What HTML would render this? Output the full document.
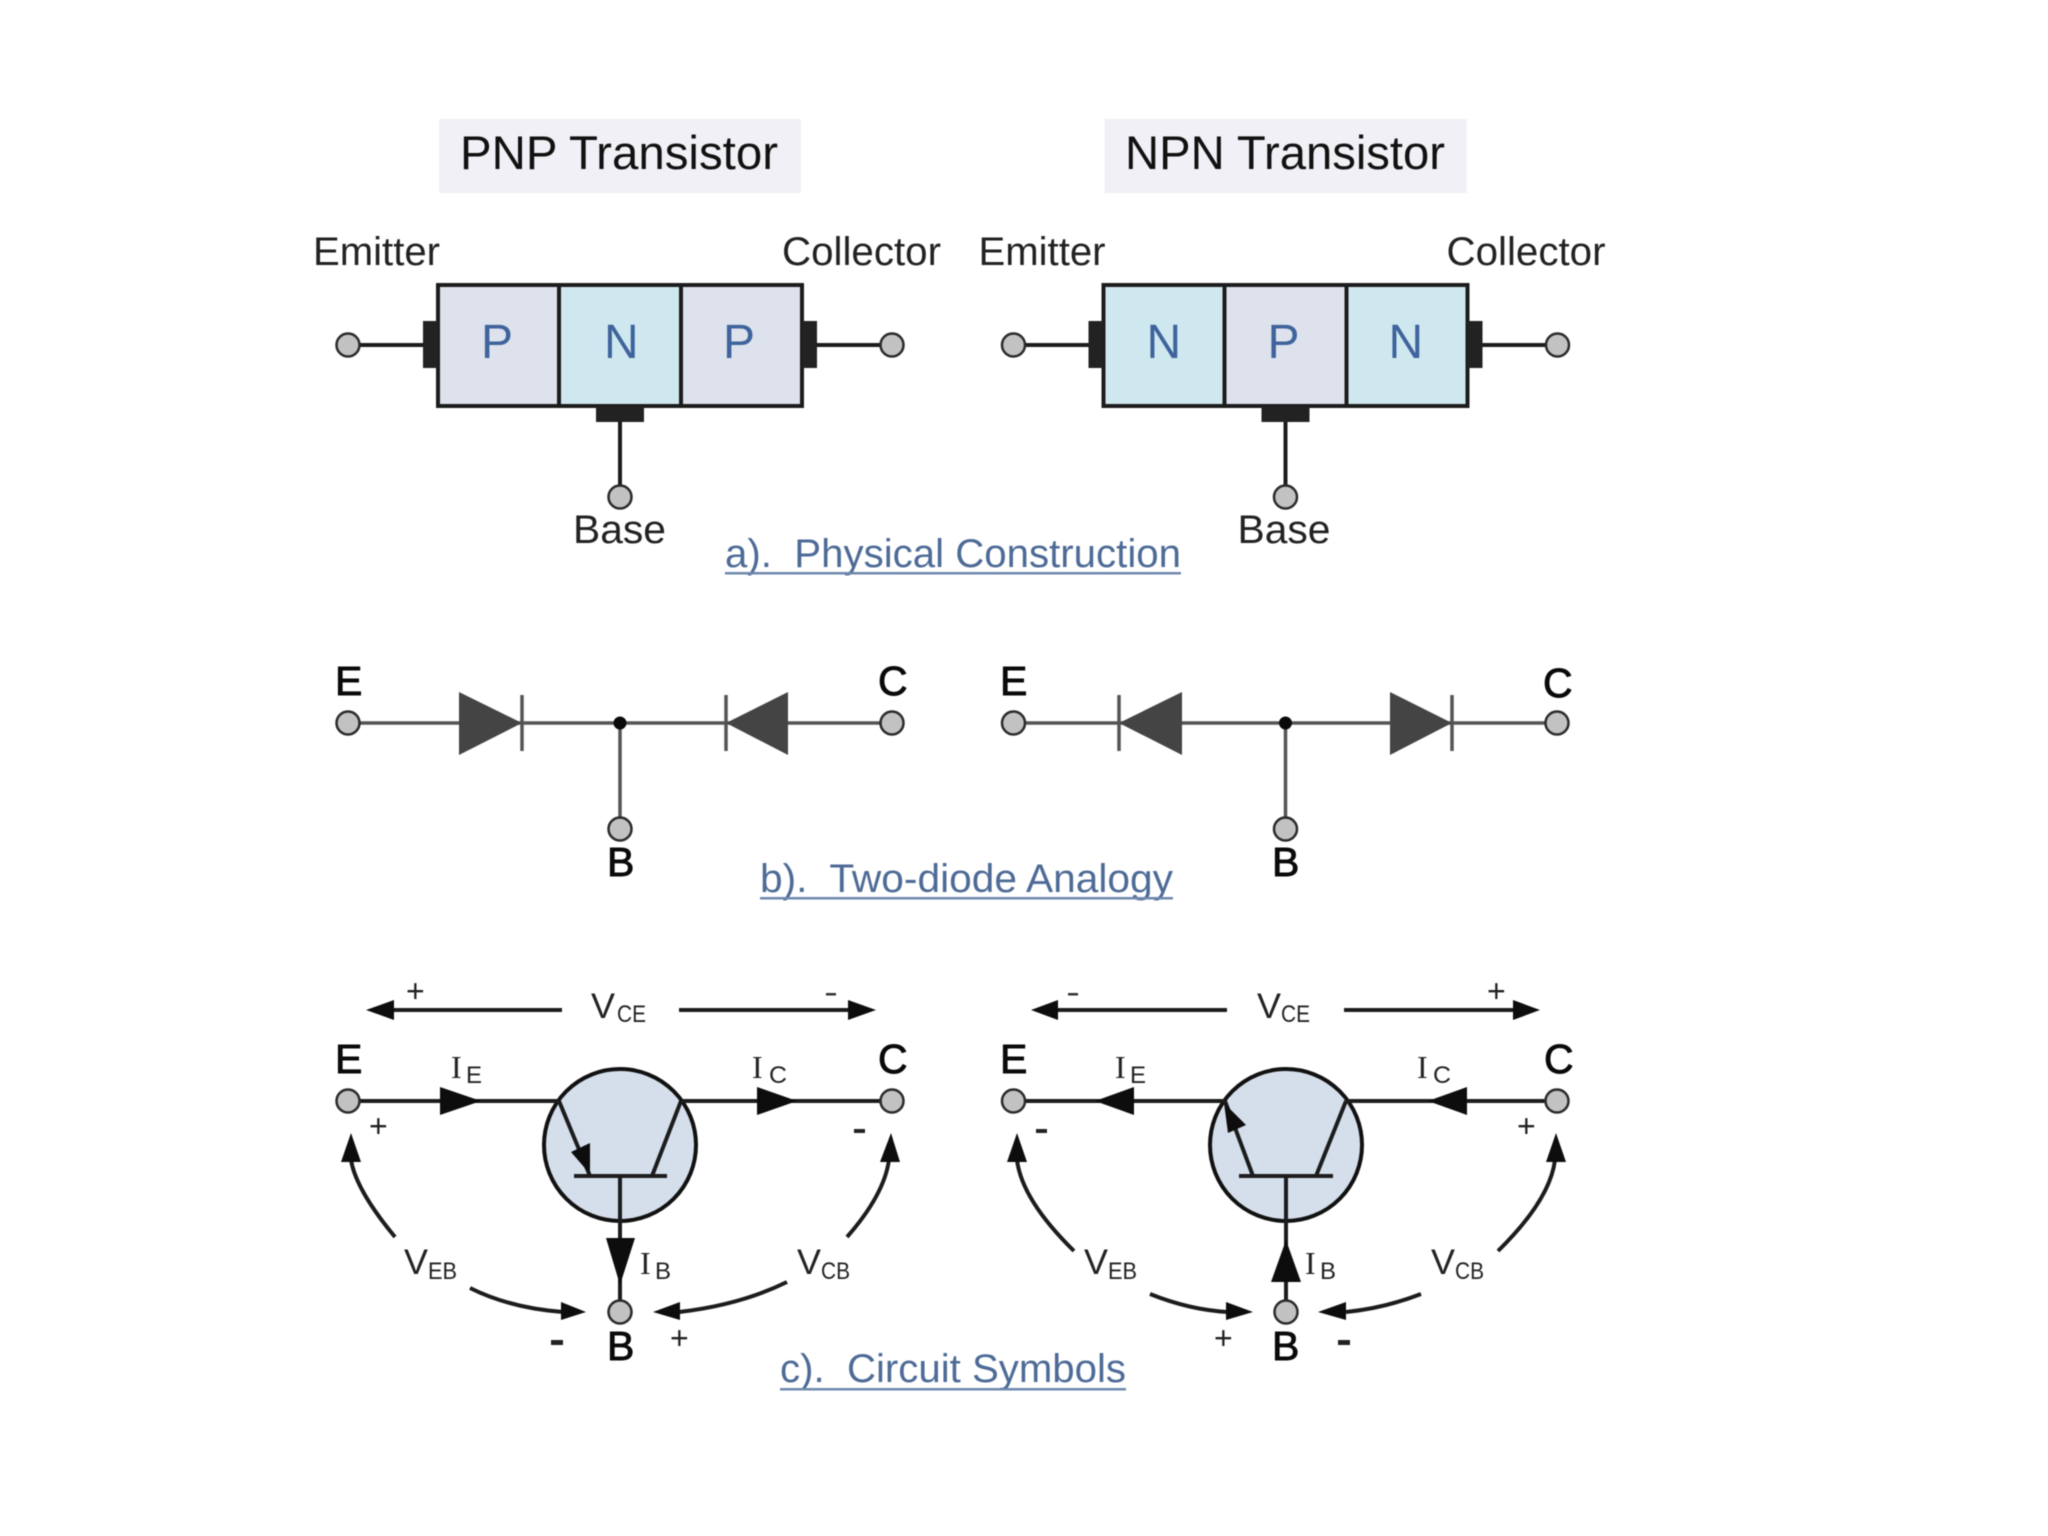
<!DOCTYPE html>
<html><head><meta charset="utf-8"><style>
html,body{margin:0;padding:0;background:#fff}
svg{display:block}
text{font-family:"Liberation Sans",sans-serif;fill:#111}
.t{font-size:47px}.l{font-size:40px;fill:#222}.s{font-size:48px;fill:#3f649c}
.c{font-size:40px;fill:#4d6b96}.b{font-size:41px;fill:#0a0a0a;stroke:#0a0a0a;stroke-width:.9px}
.v{font-size:35px;fill:#222}.u{font-size:24px;fill:#222}.i{font-size:32px;fill:#222;font-family:"Liberation Serif",serif}.p{font-size:32px;fill:#222}
.term{fill:#c2c2c2;stroke:#2b2b2b;stroke-width:2.5}
.w{stroke:#1c1c1c;stroke-width:4;fill:none}
.g{stroke:#555;stroke-width:3.5;fill:none}
.k{fill:#0d0d0d}
</style></head><body>
<svg width="2048" height="1536" viewBox="0 0 2048 1536" xmlns="http://www.w3.org/2000/svg">
<rect width="2048" height="1536" fill="#fff"/>
<g style="filter:blur(.6px)">

<!-- ===== a) physical construction ===== -->
<rect x="439" y="119" width="362" height="74" fill="#f0f0f6"/>
<rect x="1104.5" y="119" width="362" height="74" fill="#f0f0f6"/>
<text class="t" x="460" y="169" textLength="318" lengthAdjust="spacingAndGlyphs">PNP Transistor</text>
<text class="t" x="1125" y="169" textLength="320" lengthAdjust="spacingAndGlyphs">NPN Transistor</text>

<g id="pnp-a">
<text class="l" x="313" y="265" textLength="127" lengthAdjust="spacingAndGlyphs">Emitter</text>
<text class="l" x="782" y="265" textLength="159" lengthAdjust="spacingAndGlyphs">Collector</text>
<rect x="438" y="285" width="121" height="121" fill="#dde2ed"/>
<rect x="559" y="285" width="122" height="121" fill="#cfe8f0"/>
<rect x="681" y="285" width="121" height="121" fill="#dde2ed"/>
<rect x="438" y="285" width="364" height="121" fill="none" stroke="#1c1c1c" stroke-width="4"/>
<path d="M559 285V406M681 285V406" stroke="#1c1c1c" stroke-width="4"/>
<text class="s" x="481" y="358">P</text>
<text class="s" x="604" y="358">N</text>
<text class="s" x="723" y="358">P</text>
<rect x="423" y="321" width="15" height="47" fill="#222"/>
<rect x="802" y="321" width="15" height="47" fill="#222"/>
<rect x="596" y="406" width="48" height="16" fill="#222"/>
<path class="w" d="M358 345H423M817 345H882M620 422V487"/>
<circle class="term" cx="348" cy="345" r="11.5"/>
<circle class="term" cx="892" cy="345" r="11.5"/>
<circle class="term" cx="620" cy="497" r="11.5"/>
<text class="l" x="573" y="543" textLength="93" lengthAdjust="spacingAndGlyphs">Base</text>
</g>

<g transform="translate(665.5 0)">
<text class="l" x="313" y="265" textLength="127" lengthAdjust="spacingAndGlyphs">Emitter</text>
<text class="l" x="781" y="265" textLength="159" lengthAdjust="spacingAndGlyphs">Collector</text>
<rect x="438" y="285" width="121" height="121" fill="#cfe8f0"/>
<rect x="559" y="285" width="122" height="121" fill="#dde2ed"/>
<rect x="681" y="285" width="121" height="121" fill="#cfe8f0"/>
<rect x="438" y="285" width="364" height="121" fill="none" stroke="#1c1c1c" stroke-width="4"/>
<path d="M559 285V406M681 285V406" stroke="#1c1c1c" stroke-width="4"/>
<text class="s" x="481" y="358">N</text>
<text class="s" x="602" y="358">P</text>
<text class="s" x="723" y="358">N</text>
<rect x="423" y="321" width="15" height="47" fill="#222"/>
<rect x="802" y="321" width="15" height="47" fill="#222"/>
<rect x="596" y="406" width="48" height="16" fill="#222"/>
<path class="w" d="M358 345H423M817 345H882M620 422V487"/>
<circle class="term" cx="348" cy="345" r="11.5"/>
<circle class="term" cx="892" cy="345" r="11.5"/>
<circle class="term" cx="620" cy="497" r="11.5"/>
<text class="l" x="572" y="543" textLength="93" lengthAdjust="spacingAndGlyphs">Base</text>
</g>

<text class="c" x="725" y="567" textLength="456" lengthAdjust="spacingAndGlyphs" xml:space="preserve">a).  Physical Construction</text>
<rect x="725" y="572" width="456" height="2.5" fill="#6f88ad"/>

<!-- ===== b) two-diode ===== -->
<path class="g" d="M358 723H882M620 723V819"/>
<polygon points="459,692 522,723 459,755" fill="#444"/>
<path class="g" d="M522 695V751M726 695V751"/>
<polygon points="788,692 726,723 788,755" fill="#444"/>
<circle cx="620" cy="723" r="6.5" fill="#0a0a0a"/>
<circle class="term" cx="348" cy="723" r="11.5"/>
<circle class="term" cx="892" cy="723" r="11.5"/>
<circle class="term" cx="620" cy="829" r="11.5"/>
<text class="b" x="335" y="695">E</text>
<text class="b" x="878" y="695">C</text>
<text class="b" x="607" y="876">B</text>

<path class="g" d="M1023 723H1547M1285.5 723V819"/>
<polygon points="1182,692 1119,723 1182,755" fill="#444"/>
<path class="g" d="M1119 695V751M1452 695V751"/>
<polygon points="1390,692 1452,723 1390,755" fill="#444"/>
<circle cx="1285.5" cy="723" r="6.5" fill="#0a0a0a"/>
<circle class="term" cx="1013.5" cy="723" r="11.5"/>
<circle class="term" cx="1557" cy="723" r="11.5"/>
<circle class="term" cx="1285.5" cy="829" r="11.5"/>
<text class="b" x="1000" y="695">E</text>
<text class="b" x="1543" y="697">C</text>
<text class="b" x="1272" y="876">B</text>

<text class="c" x="760" y="892" textLength="413" lengthAdjust="spacingAndGlyphs" xml:space="preserve">b).  Two-diode Analogy</text>
<rect x="760" y="897" width="413" height="2.5" fill="#6f88ad"/>

<!-- ===== c) symbols PNP ===== -->
<path class="w" d="M392 1010H562M679 1010H850"/>
<polygon class="k" points="366,1010 394,1000 394,1020"/>
<polygon class="k" points="876,1010 848,1000 848,1020"/>
<text class="v" x="591" y="1018" textLength="24" lengthAdjust="spacingAndGlyphs">V</text>
<text class="u" x="617" y="1022" textLength="29" lengthAdjust="spacingAndGlyphs">CE</text>
<text class="p" x="406" y="1002">+</text>
<rect x="826" y="993" width="10" height="2.5" fill="#333"/>

<text class="b" x="335" y="1073">E</text>
<text class="b" x="878" y="1073">C</text>
<text class="i" x="451" y="1078">I</text>
<text class="u" x="466" y="1083" textLength="16" lengthAdjust="spacingAndGlyphs">E</text>
<text class="i" x="752" y="1078">I</text>
<text class="u" x="769" y="1083" textLength="18" lengthAdjust="spacingAndGlyphs">C</text>

<circle cx="620" cy="1145" r="76" fill="#d5dfeb" stroke="#111" stroke-width="4"/>
<path class="w" d="M358 1101H559M682 1101H882M620 1176V1302M574 1176H667M559 1101L590 1176M681 1101L652 1176"/>
<polygon class="k" points="440,1087 481,1101 440,1115"/>
<polygon class="k" points="757,1087 797,1101 757,1115"/>
<polygon class="k" points="571,1152 590,1143 590,1174"/>
<polygon class="k" points="606,1238 635,1238 620,1285"/>
<circle class="term" cx="348" cy="1101" r="11.5"/>
<circle class="term" cx="892" cy="1101" r="11.5"/>
<circle class="term" cx="620" cy="1312" r="11.5"/>
<text class="p" x="369" y="1137">+</text>
<rect x="854" y="1129" width="11" height="4" fill="#222"/>
<text class="i" x="640" y="1274">I</text>
<text class="u" x="655" y="1279" textLength="16" lengthAdjust="spacingAndGlyphs">B</text>
<text class="v" x="404" y="1274" textLength="24" lengthAdjust="spacingAndGlyphs">V</text>
<text class="u" x="428" y="1279" textLength="29" lengthAdjust="spacingAndGlyphs">EB</text>
<text class="v" x="797" y="1274" textLength="24" lengthAdjust="spacingAndGlyphs">V</text>
<text class="u" x="821" y="1279" textLength="29" lengthAdjust="spacingAndGlyphs">CB</text>
<path class="w" d="M395 1237Q356 1190 351 1160M847 1237Q884 1195 889 1160M470 1288Q510 1308 563 1312M787 1282Q740 1305 679 1312"/>
<polygon class="k" points="351,1133 341,1162 361,1162"/>
<polygon class="k" points="891,1133 880,1162 900,1162"/>
<polygon class="k" points="586,1312 561,1302 561,1320"/>
<polygon class="k" points="653,1312 680,1302 680,1320"/>
<text class="b" x="607" y="1360">B</text>
<rect x="551" y="1340" width="12" height="5" fill="#222"/>
<text class="p" x="670" y="1349">+</text>

<!-- ===== c) symbols NPN ===== -->
<path class="w" d="M1056 1010H1227M1344 1010H1516"/>
<polygon class="k" points="1031,1010 1058,1000 1058,1020"/>
<polygon class="k" points="1540,1010 1513,1000 1513,1020"/>
<text class="v" x="1257" y="1018" textLength="24" lengthAdjust="spacingAndGlyphs">V</text>
<text class="u" x="1281" y="1022" textLength="29" lengthAdjust="spacingAndGlyphs">CE</text>
<rect x="1068" y="993" width="10" height="2.5" fill="#333"/>
<text class="p" x="1487" y="1002">+</text>

<text class="b" x="1000" y="1073">E</text>
<text class="b" x="1544" y="1073">C</text>
<text class="i" x="1115" y="1078">I</text>
<text class="u" x="1130" y="1083" textLength="16" lengthAdjust="spacingAndGlyphs">E</text>
<text class="i" x="1417" y="1078">I</text>
<text class="u" x="1433" y="1083" textLength="18" lengthAdjust="spacingAndGlyphs">C</text>

<circle cx="1286" cy="1145" r="76" fill="#d5dfeb" stroke="#111" stroke-width="4"/>
<path class="w" d="M1023 1101H1225M1346 1101H1547M1286 1176V1302M1239 1176H1333M1253 1176L1225 1101M1316 1176L1346 1101"/>
<polygon class="k" points="1095,1101 1134,1087 1134,1115"/>
<polygon class="k" points="1428,1101 1467,1087 1467,1115"/>
<polygon class="k" points="1224,1103 1246,1125 1228,1133"/>
<polygon class="k" points="1286,1240 1271,1282 1301,1282"/>
<circle class="term" cx="1013.5" cy="1101" r="11.5"/>
<circle class="term" cx="1557" cy="1101" r="11.5"/>
<circle class="term" cx="1286" cy="1312" r="11.5"/>
<rect x="1036" y="1129" width="11" height="4" fill="#222"/>
<text class="p" x="1517" y="1137">+</text>
<text class="i" x="1305" y="1274">I</text>
<text class="u" x="1320" y="1279" textLength="16" lengthAdjust="spacingAndGlyphs">B</text>
<text class="v" x="1084" y="1274" textLength="24" lengthAdjust="spacingAndGlyphs">V</text>
<text class="u" x="1108" y="1279" textLength="29" lengthAdjust="spacingAndGlyphs">EB</text>
<text class="v" x="1431" y="1274" textLength="24" lengthAdjust="spacingAndGlyphs">V</text>
<text class="u" x="1455" y="1279" textLength="29" lengthAdjust="spacingAndGlyphs">CB</text>
<path class="w" d="M1074 1251Q1022 1200 1017 1160M1498 1251Q1550 1200 1555 1160M1150 1294Q1190 1310 1228 1312M1421 1294Q1385 1308 1346 1312"/>
<polygon class="k" points="1017,1133 1007,1162 1027,1162"/>
<polygon class="k" points="1556,1133 1546,1162 1566,1162"/>
<polygon class="k" points="1253,1312 1226,1302 1226,1320"/>
<polygon class="k" points="1318,1312 1346,1302 1346,1320"/>
<text class="b" x="1272" y="1360">B</text>
<text class="p" x="1214" y="1349">+</text>
<rect x="1338" y="1340" width="12" height="5" fill="#222"/>

<text class="c" x="780" y="1382" textLength="346" lengthAdjust="spacingAndGlyphs" xml:space="preserve">c).  Circuit Symbols</text>
<rect x="780" y="1388" width="346" height="2.5" fill="#6f88ad"/>
</g>
</svg>
</body></html>
